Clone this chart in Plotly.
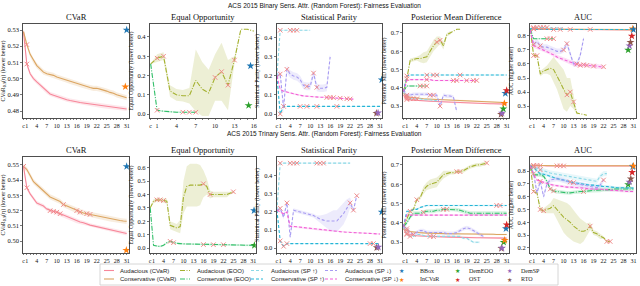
import plotly.graph_objects as go

W, H = 640, 286

# ---------------- tick labels ----------------
ticks_long = [0, 1, 4, 7, 10, 13, 16, 19, 22, 25, 28, 31]
tick_labels_long = ["c", "1", "4", "7", "10", "13", "16", "19", "22", "25", "28", "31"]
ticks_short = [0, 1, 4, 7, 10, 13, 16]
tick_labels_short = ["c", "1", "4", "7", "10", "13", "16"]

# ================= Row 1: Binary sensitive attribute =================
b_cvar_aud = [0.529, 0.509, 0.503, 0.500, 0.498, 0.496, 0.494, 0.492, 0.4905, 0.4898, 0.489, 0.4883, 0.4877, 0.487, 0.4865, 0.486,
              0.4857, 0.4853, 0.485, 0.4847, 0.4843, 0.484, 0.4837, 0.4834, 0.483, 0.4828, 0.4825, 0.4822, 0.482, 0.4818, 0.4815, 0.4813]
b_cvar_con = [0.529, 0.521, 0.515, 0.511, 0.508, 0.506, 0.504, 0.503, 0.5025, 0.502, 0.501, 0.5003, 0.4997, 0.499, 0.4983, 0.4975,
              0.497, 0.4963, 0.4955, 0.495, 0.4945, 0.494, 0.494, 0.4935, 0.493, 0.4923, 0.4915, 0.491, 0.490, 0.4893, 0.4888, 0.4882]
b_cvar_star_m = ["BBox", "InCVaR"]
b_cvar_star_x = [31.0, 30.6]
b_cvar_star_y = [0.530, 0.495]

b_eoo_aud = [0.26, 0.29, 0.30, 0.12, 0.10, 0.095, 0.095, 0.175, 0.13, 0.11, 0.19, 0.22, 0.15, 0.28, 0.44, 0.44, 0.43]
b_eoo_aud_band = [0.0, 0.02, 0.02, 0.03, 0.03, 0.03, 0.04, 0.16, 0.14, 0.12, 0.12, 0.15, 0.13, 0.02, 0.0, 0.0, 0.0]
b_eoo_con = [0.26, 0.02, 0.015, 0.012, 0.01, 0.01, 0.01, 0.01]
b_eoo_star_m = ["BBox", "DemEOO"]
b_eoo_star_x = [15.5, 15.2]
b_eoo_star_y = [0.25, 0.045]

b_sp_spu_aud = [0.2, 0.44, 0.44, 0.44, 0.44, 0.44, 0.44, 0.44, 0.44, 0.44, 0.44]
b_sp_spu_con = [0.2, 0.0, 0.04, 0.04, 0.04, 0.04, 0.04, 0.04, 0.04, 0.04, 0.04, 0.04, 0.04, 0.04, 0.04, 0.04,
                0.04, 0.04, 0.04, 0.04, 0.04, 0.04, 0.04, 0.04, 0.04, 0.04, 0.04, 0.04, 0.04, 0.04, 0.04, 0.04]
b_sp_spd_aud = [0.2, 0.21, 0.03, 0.235, 0.21, 0.20, 0.195, 0.18, 0.15, 0.145, 0.145, 0.215, 0.14, 0.135, 0.135, 0.14, 0.30]
b_sp_spd_con = [0.2, 0.13, 0.12, 0.115, 0.11, 0.105, 0.10, 0.098, 0.095, 0.093, 0.092, 0.09, 0.089, 0.088, 0.088, 0.087,
                0.087, 0.086, 0.085, 0.083, 0.082, 0.080, 0.079, 0.078]
b_sp_star_m = ["RTO", "DemSP", "BBox"]
b_sp_star_x = [29.9, 30.4, 31.5]
b_sp_star_y = [0.004, 0.006, 0.18]

b_pmd_cvar_aud = [0.36, 0.336, 0.334, 0.332, 0.331, 0.33, 0.329, 0.328, 0.327, 0.326, 0.325, 0.324, 0.323, 0.322, 0.321, 0.32,
                  0.32, 0.319, 0.318, 0.318, 0.317, 0.316, 0.316, 0.315, 0.315, 0.314, 0.313, 0.313, 0.312, 0.312, 0.311, 0.311]
b_pmd_cvar_con = [0.37, 0.352, 0.348, 0.345, 0.343, 0.341, 0.34, 0.339, 0.338, 0.337, 0.336, 0.335, 0.334, 0.333, 0.332, 0.331,
                  0.33, 0.329, 0.328, 0.328, 0.327, 0.326, 0.325, 0.325, 0.324, 0.323, 0.323, 0.322, 0.321, 0.321, 0.32, 0.32]
b_pmd_eoo_aud = [0.38, 0.45, 0.55, 0.555, 0.56, 0.56, 0.565, 0.57, 0.60, 0.63, 0.65, 0.66, 0.63, 0.69, 0.70, 0.71, 0.72, 0.72]
b_pmd_eoo_aud_band = [0.0, 0.01, 0.01, 0.01, 0.01, 0.02, 0.03, 0.03, 0.03, 0.03, 0.03, 0.02, 0.02, 0.01, 0.01, 0.0, 0.0, 0.0]
b_pmd_eoo_con = [0.38, 0.41, 0.41, 0.41, 0.41, 0.41, 0.41, 0.41]
b_pmd_spu_aud = [0.38, 0.345, 0.34, 0.34, 0.34, 0.34, 0.335, 0.335, 0.335, 0.33, 0.33]
b_pmd_spu_con = [0.38, 0.465, 0.47, 0.47, 0.47, 0.47, 0.47, 0.47, 0.47, 0.47, 0.47, 0.47, 0.47, 0.47, 0.47, 0.47,
                 0.47, 0.47, 0.47, 0.47, 0.47, 0.47, 0.47, 0.47, 0.47, 0.47, 0.47, 0.47, 0.47, 0.47, 0.47, 0.47]
b_pmd_spd_aud = [0.39, 0.36, 0.36, 0.365, 0.365, 0.365, 0.365, 0.365, 0.36, 0.36, 0.36, 0.30, 0.36, 0.355, 0.355, 0.35, 0.27]
b_pmd_spd_con = [0.38, 0.44, 0.445, 0.445, 0.445, 0.445, 0.445, 0.445, 0.445, 0.44, 0.44, 0.44, 0.44, 0.44, 0.44, 0.44,
                 0.44, 0.44, 0.44, 0.44, 0.44, 0.44, 0.44]
b_pmd_star_m = ["RTO", "DemSP", "DemEOO", "InCVaR", "BBox", "OST"]
b_pmd_star_x = [29.3, 29.6, 30.0, 30.3, 30.6, 31.0]
b_pmd_star_y = [0.255, 0.262, 0.285, 0.315, 0.37, 0.385]

b_auc_cvar_aud = [0.852, 0.85, 0.849, 0.849, 0.848, 0.848, 0.848, 0.847, 0.847, 0.847, 0.847, 0.846, 0.846, 0.846, 0.846, 0.846,
                  0.845, 0.845, 0.845, 0.845, 0.845, 0.845, 0.845, 0.844, 0.844, 0.844, 0.844, 0.844, 0.844, 0.844, 0.843, 0.843]
b_auc_cvar_con = [0.852, 0.851, 0.85, 0.85, 0.85, 0.849, 0.849, 0.849, 0.849, 0.848, 0.848, 0.848, 0.848, 0.848, 0.847, 0.847,
                  0.847, 0.847, 0.847, 0.847, 0.846, 0.846, 0.846, 0.846, 0.846, 0.846, 0.846, 0.845, 0.845, 0.845, 0.845, 0.845]
b_auc_eoo_aud = [0.85, 0.66, 0.66, 0.53, 0.55, 0.56, 0.57, 0.56, 0.52, 0.47, 0.42, 0.38, 0.40, 0.33, 0.25, 0.245, 0.24, 0.235]
b_auc_eoo_aud_band = [0.0, 0.01, 0.01, 0.02, 0.02, 0.03, 0.05, 0.09, 0.10, 0.12, 0.14, 0.12, 0.10, 0.05, 0.01, 0.0, 0.0, 0.0]
b_auc_eoo_con = [0.85, 0.78, 0.78, 0.78, 0.78, 0.78, 0.78, 0.78]
b_auc_spu_aud = [0.85, 0.86, 0.86, 0.86, 0.86, 0.86, 0.855, 0.855, 0.855, 0.855, 0.855]
b_auc_spu_con = [0.852, 0.848, 0.846, 0.846, 0.846, 0.846, 0.846, 0.846, 0.846, 0.846, 0.846, 0.846, 0.846, 0.846, 0.846, 0.846,
                 0.846, 0.846, 0.846, 0.846, 0.846, 0.846, 0.846, 0.846, 0.846, 0.846, 0.846, 0.846, 0.846, 0.846, 0.846, 0.846]
b_auc_spd_aud = [0.84, 0.74, 0.76, 0.73, 0.72, 0.72, 0.71, 0.70, 0.69, 0.69, 0.70, 0.745, 0.67, 0.60, 0.60, 0.66, 0.78]
b_auc_spd_con = [0.84, 0.73, 0.72, 0.71, 0.70, 0.69, 0.68, 0.665, 0.65, 0.64, 0.63, 0.62, 0.61, 0.60, 0.595, 0.59,
                 0.595, 0.59, 0.59, 0.585, 0.585, 0.58, 0.58]
b_auc_star_m = ["DemEOO", "DemSP", "RTO", "OST", "InCVaR", "BBox"]
b_auc_star_x = [29.4, 29.8, 30.1, 30.5, 30.8, 31.0]
b_auc_star_y = [0.70, 0.73, 0.755, 0.80, 0.85, 0.845]

# ================= Row 2: Trinary sensitive attribute =================
t_cvar_aud = [0.549, 0.535, 0.531, 0.528, 0.525, 0.524, 0.523, 0.521, 0.520, 0.5195, 0.519, 0.518, 0.517, 0.516, 0.515, 0.514,
              0.513, 0.5125, 0.512, 0.511, 0.5105, 0.510, 0.5095, 0.509, 0.5085, 0.508, 0.5075, 0.507, 0.5065, 0.506, 0.5055, 0.505]
t_cvar_con = [0.549, 0.547, 0.543, 0.539, 0.537, 0.535, 0.533, 0.531, 0.529, 0.528, 0.527, 0.526, 0.524, 0.523, 0.522, 0.521,
              0.520, 0.519, 0.5185, 0.518, 0.5175, 0.517, 0.5165, 0.516, 0.5155, 0.515, 0.5145, 0.514, 0.5138, 0.5135, 0.5132, 0.513]
t_cvar_star_m = ["BBox", "InCVaR"]
t_cvar_star_x = [31.0, 30.9]
t_cvar_star_y = [0.549, 0.494]

t_eoo_aud = [0.30, 0.35, 0.36, 0.36, 0.355, 0.35, 0.17, 0.16, 0.15, 0.16, 0.38, 0.46, 0.47, 0.47, 0.47, 0.47,
             0.48, 0.46, 0.40, 0.40, 0.40, 0.40, 0.40, 0.40, 0.41, 0.42]
t_eoo_aud_band = [0.0, 0.015, 0.015, 0.015, 0.015, 0.02, 0.03, 0.03, 0.03, 0.05, 0.12, 0.15, 0.16, 0.16, 0.16, 0.15,
                  0.10, 0.06, 0.03, 0.02, 0.02, 0.02, 0.02, 0.02, 0.01, 0.01]
t_eoo_con = [0.30, 0.02, 0.015, 0.012, 0.02, 0.04, 0.05, 0.04, 0.035, 0.033, 0.03, 0.03, 0.03, 0.03, 0.028, 0.027,
             0.026, 0.026, 0.025, 0.025, 0.025, 0.025, 0.025, 0.025, 0.024, 0.023, 0.022, 0.022, 0.021, 0.02, 0.02, 0.02]
t_eoo_star_m = ["BBox", "DemEOO"]
t_eoo_star_x = [31.2, 31.3]
t_eoo_star_y = [0.28, 0.02]

t_sp_spu_aud = [0.21, 0.47, 0.47, 0.47, 0.47, 0.47, 0.47, 0.47, 0.47, 0.47, 0.47, 0.47, 0.47, 0.47, 0.47, 0.47,
                0.47, 0.47, 0.47, 0.47, 0.47, 0.47, 0.47]
t_sp_spu_con = [0.21, 0.04, 0.01, 0.025, 0.025, 0.025, 0.025, 0.025, 0.025, 0.025, 0.025, 0.025, 0.025, 0.025, 0.025, 0.025,
                0.025, 0.025, 0.025, 0.025, 0.025, 0.025, 0.025, 0.025, 0.025, 0.025, 0.025, 0.025, 0.025, 0.025, 0.025, 0.025]
t_sp_spd_aud = [0.21, 0.22, 0.17, 0.25, 0.06, 0.21, 0.205, 0.20, 0.195, 0.19, 0.185, 0.18, 0.17, 0.16, 0.155, 0.15,
                0.15, 0.15, 0.15, 0.17, 0.19, 0.22, 0.25, 0.21, 0.29]
t_sp_spd_aud_band = [0.0, 0.01, 0.01, 0.01, 0.01, 0.01, 0.01, 0.01, 0.01, 0.01, 0.01, 0.01, 0.01, 0.02, 0.03, 0.04,
                     0.05, 0.06, 0.06, 0.06, 0.06, 0.05, 0.03, 0.01, 0.01]
t_sp_spd_con = [0.21, 0.20, 0.19, 0.20, 0.12, 0.12, 0.118, 0.115, 0.113, 0.11, 0.108, 0.105, 0.103, 0.10, 0.098, 0.096,
                0.095, 0.093, 0.092, 0.09, 0.089, 0.088, 0.087, 0.086, 0.085, 0.084, 0.083, 0.082, 0.081, 0.08, 0.079, 0.078]
t_sp_star_m = ["RTO", "DemSP", "BBox"]
t_sp_star_x = [30.0, 30.5, 31.5]
t_sp_star_y = [0.003, 0.006, 0.20]

t_pmd_cvar_aud = [0.37, 0.345, 0.34, 0.335, 0.333, 0.332, 0.331, 0.33, 0.33, 0.329, 0.328, 0.328, 0.327, 0.327, 0.326, 0.326,
                  0.325, 0.325, 0.325, 0.324, 0.324, 0.324, 0.323, 0.323, 0.323, 0.322, 0.322, 0.322, 0.322, 0.321, 0.321, 0.321]
t_pmd_cvar_con = [0.37, 0.36, 0.355, 0.352, 0.35, 0.349, 0.348, 0.347, 0.346, 0.346, 0.345, 0.345, 0.345, 0.344, 0.344, 0.344,
                  0.343, 0.343, 0.343, 0.343, 0.342, 0.342, 0.342, 0.342, 0.341, 0.341, 0.341, 0.341, 0.34, 0.34, 0.34, 0.34]
t_pmd_eoo_aud = [0.38, 0.42, 0.46, 0.47, 0.52, 0.53, 0.57, 0.59, 0.60, 0.605, 0.61, 0.63, 0.65, 0.655, 0.66, 0.66,
                 0.665, 0.665, 0.67, 0.68, 0.69, 0.695, 0.70, 0.70, 0.705, 0.71]
t_pmd_eoo_aud_band = [0.0, 0.01, 0.01, 0.01, 0.01, 0.01, 0.02, 0.02, 0.025, 0.025, 0.025, 0.02, 0.02, 0.015, 0.01, 0.01,
                      0.01, 0.01, 0.01, 0.01, 0.01, 0.01, 0.01, 0.01, 0.01, 0.01]
t_pmd_eoo_con = [0.38, 0.40, 0.43, 0.45, 0.45, 0.45, 0.455, 0.46, 0.46, 0.46, 0.465, 0.465, 0.47, 0.47, 0.47, 0.47,
                 0.468, 0.465, 0.46, 0.455, 0.45, 0.45, 0.45, 0.45, 0.45, 0.45, 0.45, 0.45, 0.45, 0.45, 0.45, 0.45]
t_pmd_spu_aud = [0.38, 0.34, 0.33, 0.33, 0.34, 0.34, 0.335, 0.33, 0.33, 0.33, 0.33, 0.33, 0.33, 0.33, 0.33, 0.33,
                 0.33, 0.33, 0.32, 0.32, 0.31, 0.30, 0.30, 0.30]
t_pmd_spu_con = [0.38, 0.46, 0.46, 0.47, 0.47, 0.48, 0.485, 0.49, 0.49, 0.49, 0.49, 0.49, 0.49, 0.49, 0.49, 0.49,
                 0.49, 0.49, 0.49, 0.49, 0.49, 0.49, 0.49, 0.49, 0.49, 0.49, 0.49, 0.49, 0.49, 0.49, 0.49, 0.49]
t_pmd_spd_aud = [0.38, 0.37, 0.35, 0.34, 0.35, 0.36, 0.36, 0.35, 0.35, 0.35, 0.35, 0.35, 0.35, 0.345, 0.345, 0.345,
                 0.35, 0.36, 0.37, 0.375, 0.37, 0.36, 0.35, 0.34, 0.33]
t_pmd_spd_con = [0.38, 0.44, 0.44, 0.44, 0.44, 0.44, 0.44, 0.44, 0.44, 0.44, 0.44, 0.44, 0.44, 0.44, 0.44, 0.44,
                 0.44, 0.44, 0.44, 0.44, 0.44, 0.44, 0.44, 0.44, 0.44, 0.44, 0.44, 0.44, 0.44, 0.44, 0.44, 0.44]
t_pmd_star_m = ["RTO", "DemSP", "DemEOO", "InCVaR", "BBox", "OST"]
t_pmd_star_x = [29.4, 29.6, 30.1, 30.4, 30.8, 31.0]
t_pmd_star_y = [0.268, 0.27, 0.30, 0.31, 0.37, 0.39]

t_auc_cvar_aud = [0.845, 0.843, 0.842, 0.842, 0.842, 0.841, 0.841, 0.841, 0.841, 0.841, 0.84, 0.84, 0.84, 0.84, 0.84, 0.84,
                  0.84, 0.84, 0.84, 0.84, 0.84, 0.84, 0.84, 0.84, 0.84, 0.84, 0.84, 0.84, 0.84, 0.84, 0.84, 0.84]
t_auc_cvar_con = [0.845, 0.844, 0.844, 0.843, 0.843, 0.843, 0.843, 0.842, 0.842, 0.842, 0.842, 0.842, 0.842, 0.842, 0.842, 0.842,
                  0.842, 0.842, 0.842, 0.842, 0.842, 0.842, 0.842, 0.842, 0.842, 0.842, 0.842, 0.842, 0.842, 0.842, 0.842, 0.842]
t_auc_eoo_aud = [0.84, 0.64, 0.63, 0.50, 0.49, 0.50, 0.51, 0.53, 0.50, 0.47, 0.44, 0.42, 0.40, 0.37, 0.35, 0.33,
                 0.33, 0.34, 0.37, 0.32, 0.31, 0.29, 0.28, 0.25, 0.25]
t_auc_eoo_aud_band = [0.0, 0.01, 0.01, 0.02, 0.02, 0.03, 0.04, 0.06, 0.08, 0.10, 0.12, 0.13, 0.13, 0.12, 0.11, 0.10,
                      0.08, 0.05, 0.03, 0.02, 0.02, 0.02, 0.01, 0.01, 0.01]
t_auc_eoo_con = [0.84, 0.77, 0.77, 0.77, 0.76, 0.72, 0.66, 0.645, 0.64, 0.635, 0.63, 0.63, 0.63, 0.635, 0.635, 0.64,
                 0.64, 0.645, 0.645, 0.65, 0.65, 0.65, 0.655, 0.655, 0.655, 0.66, 0.66, 0.66, 0.66, 0.66, 0.66, 0.66]
t_auc_spu_aud = [0.84, 0.83, 0.82, 0.81, 0.80, 0.79, 0.785, 0.78, 0.775, 0.77, 0.765, 0.76, 0.755, 0.75, 0.745, 0.74,
                 0.735, 0.73, 0.725, 0.72, 0.72, 0.76, 0.78, 0.78]
t_auc_spu_con = [0.84, 0.83, 0.80, 0.78, 0.775, 0.77, 0.76, 0.75, 0.74, 0.735, 0.73, 0.72, 0.715, 0.71, 0.705, 0.70,
                 0.70, 0.695, 0.69, 0.69, 0.685, 0.68, 0.68, 0.68, 0.675, 0.675, 0.67, 0.67, 0.67, 0.67, 0.668, 0.668]
t_auc_spd_aud = [0.84, 0.78, 0.63, 0.72, 0.60, 0.70, 0.73, 0.735, 0.74, 0.735, 0.73, 0.72, 0.71, 0.70, 0.70, 0.695,
                 0.69, 0.685, 0.68, 0.675, 0.67, 0.69, 0.73]
t_auc_spd_con = [0.84, 0.77, 0.73, 0.72, 0.71, 0.70, 0.695, 0.69, 0.685, 0.68, 0.68, 0.675, 0.675, 0.67, 0.67, 0.67,
                 0.665, 0.665, 0.66, 0.66, 0.66, 0.66, 0.655, 0.655, 0.65, 0.65, 0.65, 0.645, 0.645, 0.64, 0.64, 0.64]
t_auc_star_m = ["DemEOO", "DemSP", "RTO", "OST", "BBox", "InCVaR"]
t_auc_star_x = [29.4, 29.8, 30.2, 30.6, 30.8, 31.0]
t_auc_star_y = [0.695, 0.715, 0.74, 0.79, 0.835, 0.84]

# ---------------- styles ----------------
COLORS = {
    "cvar_aud": "#f7879a", "cvar_con": "#dba561",
    "eoo_aud": "#a4b12f", "eoo_con": "#31bf69",
    "spu_aud": "#8cd8e6", "spu_con": "#25b5d6",
    "spd_aud": "#a79bf2", "spd_con": "#f260d6",
}
DASH = {
    "cvar_aud": "solid", "cvar_con": "solid",
    "eoo_aud": "5px,1.5px,1px,1.5px", "eoo_con": "5px,1.5px,1px,1.5px",
    "spu_aud": "3px,2px", "spu_con": "3px,2px",
    "spd_aud": "3px,2px", "spd_con": "3px,2px",
}
NAMES = {
    "cvar_aud": "Audacious (CVaR)", "cvar_con": "Conservative (CVaR)",
    "eoo_aud": "Audacious (EOO)", "eoo_con": "Conservative (EOO)",
    "spu_aud": "Audacious (SP \u2191)", "spu_con": "Conservative (SP \u2191)",
    "spd_aud": "Audacious (SP \u2193)", "spd_con": "Conservative (SP \u2193)",
}
STAR_COLORS = {"BBox": "#1f77b4", "InCVaR": "#ff7f0e", "DemEOO": "#2ca02c",
               "OST": "#d62728", "DemSP": "#9467bd", "RTO": "#8c564b"}
MARK_COLOR = "#f08a8a"

YT_CVAR = "CVaR<sub>0.9</sub>(\u03b7) (lower better)"
panels = [
    dict(row=0, col=0, title="CVaR", ytitle=YT_CVAR, yrange=[0.4757, 0.5337],
         yticks=[0.48, 0.49, 0.50, 0.51, 0.52, 0.53], yfmt="{:.2f}", short=False,
         series=[("cvar_aud", b_cvar_aud, 0.0013, [1]), ("cvar_con", b_cvar_con, 0.0016, [1])],
         stars=(b_cvar_star_m, b_cvar_star_x, b_cvar_star_y)),
    dict(row=0, col=1, title="Equal Opportunity", ytitle="Equal Opportunity (lower better)", yrange=[-0.02, 0.467],
         yticks=[0.0, 0.1, 0.2, 0.3, 0.4], yfmt="{:.1f}", short=True,
         series=[("eoo_aud", b_eoo_aud, b_eoo_aud_band, [1, 2, 10, 11, 12, 13]),
                 ("eoo_con", b_eoo_con, 0.004, [1, 5, 6, 7])],
         stars=(b_eoo_star_m, b_eoo_star_x, b_eoo_star_y)),
    dict(row=0, col=2, title="Statistical Parity", ytitle="Statistical Parity (lower better)", yrange=[-0.021, 0.473],
         yticks=[0.0, 0.1, 0.2, 0.3, 0.4], yfmt="{:.1f}", short=False,
         series=[("spu_aud", b_sp_spu_aud, 0.003, [1, 4, 5, 6]),
                 ("spu_con", b_sp_spu_con, 0.002, [1, 2, 7, 9, 12, 18]),
                 ("spd_aud", b_sp_spd_aud, 0.02, [1, 3, 9, 11, 12]),
                 ("spd_con", b_sp_spd_con, 0.004, [15, 16, 17, 19, 21, 22])],
         stars=(b_sp_star_m, b_sp_star_x, b_sp_star_y)),
    dict(row=0, col=3, title="Posterior Mean Difference", ytitle="Posterior MD (lower better)", yrange=[0.235, 0.749],
         yticks=[0.3, 0.4, 0.5, 0.6, 0.7], yfmt="{:.1f}", short=False,
         series=[("cvar_aud", b_pmd_cvar_aud, 0.004, [1]), ("cvar_con", b_pmd_cvar_con, 0.004, [1]),
                 ("eoo_aud", b_pmd_eoo_aud, b_pmd_eoo_aud_band, [1, 10, 11]),
                 ("eoo_con", b_pmd_eoo_con, 0.004, [5, 6, 7]),
                 ("spu_aud", b_pmd_spu_aud, 0.004, [1, 2, 3, 4]),
                 ("spu_con", b_pmd_spu_con, 0.003, [1, 7, 9, 10, 17]),
                 ("spd_aud", b_pmd_spd_aud, 0.01, [1, 8, 9, 11]),
                 ("spd_con", b_pmd_spd_con, 0.004, [7, 15, 16, 19, 21, 22])],
         stars=(b_pmd_star_m, b_pmd_star_x, b_pmd_star_y)),
    dict(row=0, col=4, title="AUC", ytitle="AUC (higher better)", yrange=[0.215, 0.885],
         yticks=[0.3, 0.4, 0.5, 0.6, 0.7, 0.8], yfmt="{:.1f}", short=False,
         series=[("cvar_aud", b_auc_cvar_aud, 0.003, [1]), ("cvar_con", b_auc_cvar_con, 0.003, [1]),
                 ("eoo_aud", b_auc_eoo_aud, b_auc_eoo_aud_band, [1, 2, 11, 12, 13]),
                 ("eoo_con", b_auc_eoo_con, 0.004, [5, 6, 7]),
                 ("spu_aud", b_auc_spu_aud, 0.003, [1, 2, 3, 4, 5]),
                 ("spu_con", b_auc_spu_con, 0.002, [7, 9, 12, 18]),
                 ("spd_aud", b_auc_spd_aud, 0.02, [1, 3, 10, 11, 14]),
                 ("spd_con", b_auc_spd_con, 0.015, [15, 16, 17, 19, 22])],
         stars=(b_auc_star_m, b_auc_star_x, b_auc_star_y)),
    dict(row=1, col=0, title="CVaR", ytitle=YT_CVAR, yrange=[0.4922, 0.5552],
         yticks=[0.50, 0.51, 0.52, 0.53, 0.54, 0.55], yfmt="{:.2f}", short=False,
         series=[("cvar_aud", t_cvar_aud, 0.0013, [0, 1, 8, 9, 10, 11]),
                 ("cvar_con", t_cvar_con, 0.0017, [0, 12, 16, 17, 19, 20])],
         stars=(t_cvar_star_m, t_cvar_star_x, t_cvar_star_y)),
    dict(row=1, col=1, title="Equal Opportunity", ytitle="Equal Opportunity (lower better)", yrange=[-0.037, 0.68],
         yticks=[0.0, 0.1, 0.2, 0.3, 0.4, 0.5, 0.6], yfmt="{:.1f}", short=False,
         series=[("eoo_aud", t_eoo_aud, t_eoo_aud_band, [2, 3, 4, 16, 18, 25]),
                 ("eoo_con", t_eoo_con, 0.006, [6, 7, 16, 19, 22])],
         stars=(t_eoo_star_m, t_eoo_star_x, t_eoo_star_y)),
    dict(row=1, col=2, title="Statistical Parity", ytitle="Statistical Parity (lower better)", yrange=[-0.027, 0.504],
         yticks=[0.0, 0.1, 0.2, 0.3, 0.4], yfmt="{:.1f}", short=False,
         series=[("spu_aud", t_sp_spu_aud, 0.003, [1, 4, 5, 6, 12, 13, 14]),
                 ("spu_con", t_sp_spu_con, 0.002, [1, 2, 3, 28, 29]),
                 ("spd_aud", t_sp_spd_aud, t_sp_spd_aud_band, [1, 3, 22, 23, 24]),
                 ("spd_con", t_sp_spd_con, 0.004, [])],
         stars=(t_sp_star_m, t_sp_star_x, t_sp_star_y)),
    dict(row=1, col=3, title="Posterior Mean Difference", ytitle="Posterior MD (lower better)", yrange=[0.244, 0.741],
         yticks=[0.3, 0.4, 0.5, 0.6, 0.7], yfmt="{:.1f}", short=False,
         series=[("cvar_aud", t_pmd_cvar_aud, 0.004, [1, 8, 9]), ("cvar_con", t_pmd_cvar_con, 0.004, [1]),
                 ("eoo_aud", t_pmd_eoo_aud, t_pmd_eoo_aud_band, [2, 4, 16, 17, 25]),
                 ("eoo_con", t_pmd_eoo_con, 0.01, [6, 12, 13]),
                 ("spu_aud", t_pmd_spu_aud, 0.005, [1, 2]),
                 ("spu_con", t_pmd_spu_con, 0.004, [28, 29]),
                 ("spd_aud", t_pmd_spd_aud, 0.01, [1, 3]),
                 ("spd_con", t_pmd_spd_con, 0.004, [])],
         stars=(t_pmd_star_m, t_pmd_star_x, t_pmd_star_y)),
    dict(row=1, col=4, title="AUC", ytitle="AUC (higher better)", yrange=[0.16, 0.91],
         yticks=[0.2, 0.3, 0.4, 0.5, 0.6, 0.7, 0.8], yfmt="{:.1f}", short=False,
         series=[("cvar_aud", t_auc_cvar_aud, 0.003, [1, 8, 9, 10]), ("cvar_con", t_auc_cvar_con, 0.003, [1, 2, 3]),
                 ("eoo_aud", t_auc_eoo_aud, t_auc_eoo_aud_band, [1, 3, 4, 18, 23, 24]),
                 ("eoo_con", t_auc_eoo_con, 0.015, [6, 7, 16]),
                 ("spu_aud", t_auc_spu_aud, 0.02, [1, 3]),
                 ("spu_con", t_auc_spu_con, 0.01, [12, 13]),
                 ("spd_aud", t_auc_spd_aud, 0.02, [1, 3, 22]),
                 ("spd_con", t_auc_spd_con, 0.01, [])],
         stars=(t_auc_star_m, t_auc_star_x, t_auc_star_y)),
]


def rgba(hexc, a):
    h = hexc.lstrip("#")
    return "rgba({},{},{},{})".format(int(h[0:2], 16), int(h[2:4], 16), int(h[4:6], 16), a)


SERIF = "Liberation Serif, DejaVu Serif, serif"
SANS = "Liberation Sans, DejaVu Sans, sans-serif"

col_left = [23, 149.7, 276.4, 403, 529.8]
col_w = 106
row_tb = [(24, 118), (157, 253)]

fig = go.Figure()
layout = {}
annotations = []

for i, p in enumerate(panels):
    n = i + 1
    xa, ya = ("x", "y") if n == 1 else (f"x{n}", f"y{n}")
    xk, yk = ("xaxis", "yaxis") if n == 1 else (f"xaxis{n}", f"yaxis{n}")
    l = col_left[p["col"]]
    r = l + col_w
    t, b = row_tb[p["row"]]
    if p["short"]:
        tv, tt, xr, last = ticks_short, tick_labels_short, [-0.15, 16.3], 16
    else:
        tv, tt, xr, last = ticks_long, tick_labels_long, [-0.15, 31.7], 31
    all_t = list(range(0, last + 1))
    all_l = [tt[tv.index(v)] if v in tv else "" for v in all_t]
    layout[xk] = dict(domain=[l / W, r / W], anchor=ya, range=xr, tickmode="array", tickvals=all_t, ticktext=all_l,
                      tickangle=0, automargin=False, showline=True, mirror=True, linecolor="#222", linewidth=0.8,
                      showgrid=False, zeroline=False, ticks="outside", ticklen=1.5, tickwidth=0.6, tickcolor="#222",
                      tickfont=dict(family=SERIF, size=6, color="#111"))
    layout[yk] = dict(domain=[1 - b / H, 1 - t / H], anchor=xa, range=p["yrange"], tickmode="array",
                      tickvals=p["yticks"], ticktext=[p["yfmt"].format(v) for v in p["yticks"]], automargin=False,
                      showline=True, mirror=True, linecolor="#222", linewidth=0.8, showgrid=False, zeroline=False,
                      ticks="outside", ticklen=2, tickwidth=0.6, tickcolor="#222",
                      tickfont=dict(family=SERIF, size=6.5, color="#111"),
                      title=dict(text=p["ytitle"], font=dict(family=SERIF, size=6, color="#111"), standoff=3))
    annotations.append(dict(text=p["title"], x=(l + r) / 2 / W, y=1 - (t - 7) / H, xref="paper", yref="paper",
                            xanchor="center", yanchor="middle", showarrow=False,
                            font=dict(family=SERIF, size=8.5, color="#111")))
    for key, vals, band, marks in p["series"]:
        xs = list(range(len(vals)))
        bw = band if isinstance(band, list) else [band] * len(vals)
        up = [v + w for v, w in zip(vals, bw)]
        lo = [v - w for v, w in zip(vals, bw)]
        fig.add_trace(go.Scatter(x=xs + xs[::-1], y=up + lo[::-1], fill="toself", fillcolor=rgba(COLORS[key], 0.2),
                                 line=dict(width=0), mode="lines", xaxis=xa, yaxis=ya, showlegend=False,
                                 hoverinfo="skip"))
    for key, vals, band, marks in p["series"]:
        xs = list(range(len(vals)))
        fig.add_trace(go.Scatter(x=xs, y=vals, mode="lines", name=NAMES[key],
                                 line=dict(color=COLORS[key], width=1.1, dash=DASH[key]),
                                 xaxis=xa, yaxis=ya, showlegend=False))
    for key, vals, band, marks in p["series"]:
        if marks:
            fig.add_trace(go.Scatter(x=marks, y=[vals[m] for m in marks], mode="markers",
                                     marker=dict(symbol="x-thin", size=4.5, line=dict(width=1, color=MARK_COLOR)),
                                     xaxis=xa, yaxis=ya, showlegend=False, hoverinfo="skip"))
    sm, sx, sy = p["stars"]
    fig.add_trace(go.Scatter(x=sx, y=sy, mode="markers", text=sm,
                             marker=dict(symbol="star", size=6, color=[STAR_COLORS[k] for k in sm]),
                             xaxis=xa, yaxis=ya, showlegend=False))

# suptitles
for txt, yy in [("ACS 2015 Binary Sens. Attr. (Random Forest): Fairness Evaluation", 5.5),
                ("ACS 2015 Trinary Sens. Attr. (Random Forest): Fairness Evaluation", 134)]:
    annotations.append(dict(text=txt, x=324 / W, y=1 - yy / H, xref="paper", yref="paper", xanchor="center",
                            yanchor="middle", showarrow=False, font=dict(family=SANS, size=6.5, color="#111")))

# ---------------- custom legend (paper coordinates) ----------------
legend_rows = [270.5, 279]
line_cols = [(104, 114, 118), (180, 190, 195), (251, 263, 269), (325, 337, 343)]
line_keys = [("cvar_aud", "cvar_con"), ("eoo_aud", "eoo_con"), ("spu_aud", "spu_con"), ("spd_aud", "spd_con")]
star_cols = [(401, 418), (457, 467), (509, 519)]
star_keys = [("BBox", "InCVaR"), ("DemEOO", "OST"), ("DemSP", "RTO")]

shapes = [dict(type="rect", xref="paper", yref="paper", x0=100 / W, x1=558 / W, y0=1 - 285 / H, y1=1 - 264 / H,
               line=dict(color="#cccccc", width=0.8), fillcolor="white", layer="below")]

for (x0, x1, xt), keys in zip(line_cols, line_keys):
    for key, yy in zip(keys, legend_rows):
        shapes.append(dict(type="line", xref="paper", yref="paper", x0=x0 / W, x1=x1 / W,
                           y0=1 - yy / H, y1=1 - yy / H,
                           line=dict(color=COLORS[key], width=1.1, dash=DASH[key])))
        annotations.append(dict(text=NAMES[key], x=xt / W, y=1 - yy / H, xref="paper", yref="paper",
                                xanchor="left", yanchor="middle", showarrow=False,
                                font=dict(family=SANS, size=6, color="#222")))
for (xs_, xt), keys in zip(star_cols, star_keys):
    for key, yy in zip(keys, legend_rows):
        annotations.append(dict(text="\u2605", x=xs_ / W, y=1 - yy / H, xref="paper", yref="paper",
                                xanchor="center", yanchor="middle", showarrow=False,
                                font=dict(family="DejaVu Sans", size=6, color=STAR_COLORS[key])))
        annotations.append(dict(text=key, x=xt / W, y=1 - yy / H, xref="paper", yref="paper",
                                xanchor="left", yanchor="middle", showarrow=False,
                                font=dict(family=SERIF, size=6, color="#222")))

fig.update_layout(template="none", width=W, height=H, margin=dict(l=0, r=0, t=0, b=0, pad=0, autoexpand=False),
                  plot_bgcolor="white", paper_bgcolor="white", showlegend=False,
                  annotations=annotations, shapes=shapes, **layout)

fig.write_html("out.html", config={"displayModeBar": False, "staticPlot": True},
               post_script="document.body.style.margin='0px';document.body.style.padding='0px';")
